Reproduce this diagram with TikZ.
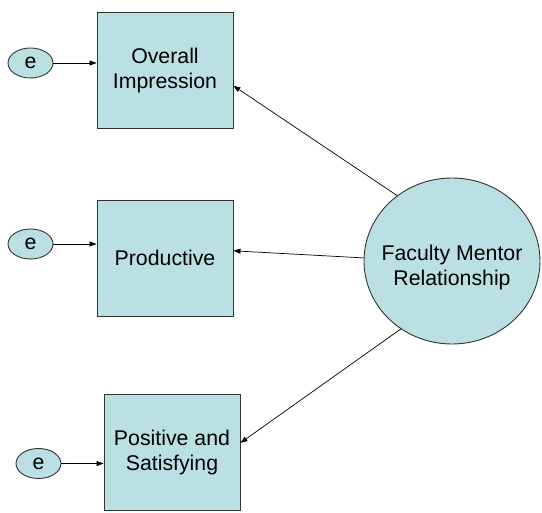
\documentclass[tikz,border=0pt]{standalone}
\usepackage{fontspec}
\setmainfont{Liberation Sans}
\usetikzlibrary{shapes.geometric,arrows.meta}
\definecolor{boxfill}{RGB}{187,224,227}
\begin{document}
\begin{tikzpicture}[x=1pt,y=-1pt,
  every node/.style={font=\fontsize{21.3}{25}\selectfont, text=black},
  obsbox/.style={draw=black!80, line width=0.9pt, fill=boxfill, minimum width=136pt, minimum height=116pt, align=center, inner sep=0pt},
  errnode/.style={ellipse, draw=black!80, line width=0.9pt, fill=boxfill, minimum width=45pt, minimum height=30pt, inner sep=0pt},
  latent/.style={ellipse, draw=black!80, line width=0.9pt, fill=boxfill, minimum width=176pt, minimum height=166pt, inner sep=0pt},
  conn/.style={draw=black, line width=0.7pt, -{Triangle[length=7pt,width=5pt]}}]
\useasboundingbox (0,0) rectangle (542,513);
\node[obsbox] (b1) at (165,70) {Overall\\Impression};
\node[obsbox] (b2) at (165,258) {Productive};
\node[obsbox] (b3) at (172,452.5) {Positive and\\Satisfying};
\node[errnode] (e1) at (30.5,63) {e};
\node[errnode] (e2) at (30.5,244) {e};
\node[errnode] (e3) at (38.5,463.5) {e};
\node[latent] (f) at (452,261) {};
\node[align=center, inner sep=0pt] (ft) at (452,267) {Faculty Mentor\\Relationship};
\draw[conn] (e1.east) -- (e1.east -| b1.west);
\draw[conn] (e2.east) -- (e2.east -| b2.west);
\draw[conn] (e3.east) -- (e3.east -| b3.west);
\draw[conn] (f.130) -- (b1.-13);
\draw[conn] (f.178) -- (b2.6);
\draw[conn] (f.233) -- (b3.8);
\end{tikzpicture}
\end{document}
